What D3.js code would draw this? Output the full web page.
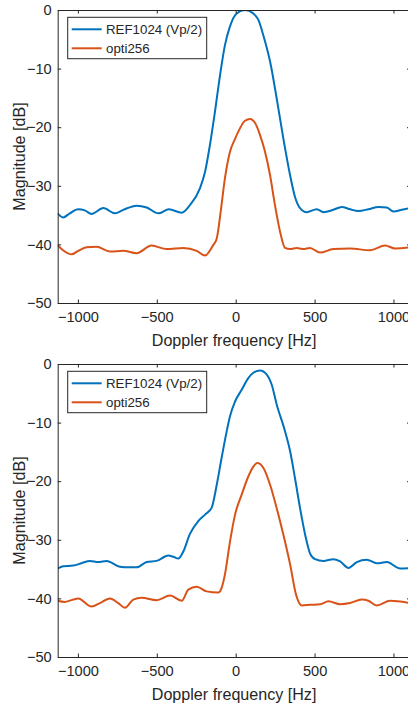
<!DOCTYPE html>
<html>
<head>
<meta charset="utf-8">
<script src="https://cdn.jsdelivr.net/npm/d3@7"></script>
<style>
html,body{margin:0;padding:0;background:#fff;}
svg{display:block;}
text{font-family:"Liberation Sans",Arial,Helvetica,sans-serif;fill:#262626;}
</style>
</head>
<body>
<svg id="chart" width="408" height="705"></svg>
<script>
// ---- Data ----
const seriesNames = ["REF1024 (Vp/2)", "opti256"];
const xTicks = [-1000, -500, 0, 500, 1000];
const yTicks = [0, -10, -20, -30, -40, -50];
const xLabel = "Doppler frequency [Hz]";
const yLabel = "Magnitude [dB]";

// Top panel
const topRefFreq = [-1128,-1094,-1051,-998,-956,-913,-839,-765,-712,-628,-564,-490,-423,-342,-290,-226,-194,-163,-131,-99,-68,-36,6,59,112,144,175,218,260,302,345,376,408,450,514,556,619,672,725,778,841,905,958,1000,1053,1108];
const topRefDb   = [-34.7,-35.4,-34.7,-34.0,-34.2,-34.8,-33.8,-34.7,-34.1,-33.4,-33.7,-34.7,-34.0,-34.6,-33.3,-30.4,-27.6,-23.0,-17.3,-11.1,-6.0,-2.8,-0.6,0.0,-0.6,-1.7,-4.3,-8.8,-15.1,-21.9,-28.2,-31.9,-33.8,-34.5,-34.0,-34.5,-34.1,-33.6,-34.0,-34.3,-34.0,-33.6,-33.7,-34.4,-34.1,-33.8];
const topOptFreq = [-1128,-1094,-1040,-998,-945,-882,-797,-712,-628,-533,-438,-332,-247,-194,-142,-120,-95,-68,-36,-4,27,59,91,123,154,186,218,249,281,313,345,387,429,471,535,619,725,852,947,1010,1108];
const topOptDb   = [-40.2,-41.0,-41.7,-41.1,-40.5,-40.4,-41.2,-41.1,-41.5,-40.2,-40.8,-40.6,-41.1,-41.9,-40.1,-39.0,-34.4,-28.7,-24.2,-22.0,-20.2,-18.9,-18.6,-19.3,-21.3,-24.2,-28.2,-33.3,-37.8,-40.6,-40.8,-40.6,-40.8,-40.6,-41.4,-40.8,-40.7,-41.0,-40.2,-40.7,-40.5];

// Bottom panel
const botRefFreq = [-1128,-1094,-1030,-977,-924,-871,-818,-734,-681,-628,-564,-501,-427,-395,-364,-332,-290,-237,-194,-152,-120,-89,-57,-36,-4,38,80,112,154,197,228,260,313,345,376,408,440,471,503,556,619,662,715,768,831,894,958,1042,1108];
const botRefDb   = [-34.9,-34.5,-34.4,-34.0,-33.6,-33.8,-33.6,-34.6,-34.7,-34.7,-33.8,-33.6,-32.7,-32.9,-33.2,-32.0,-29.0,-26.8,-25.7,-24.5,-20.6,-16.0,-11.5,-8.9,-6.4,-4.4,-2.4,-1.5,-1.1,-1.8,-3.5,-6.9,-11.5,-14.9,-19.5,-24.6,-29.1,-32.3,-33.3,-33.6,-33.3,-33.7,-34.8,-33.8,-33.4,-34.0,-33.8,-34.9,-34.8];
const botOptFreq = [-1128,-1084,-998,-913,-860,-797,-744,-702,-649,-596,-501,-416,-342,-300,-247,-184,-110,-89,-68,-36,-4,38,80,112,137,175,218,260,302,345,383,419,471,535,588,662,725,799,841,894,979,1108];
const botOptDb   = [-40.4,-40.6,-40.0,-41.4,-40.8,-40.0,-40.8,-41.6,-40.2,-39.9,-40.3,-39.5,-40.4,-38.5,-38.0,-38.8,-39.0,-38.2,-35.9,-30.3,-25.7,-22.3,-19.2,-17.5,-16.9,-17.7,-20.6,-24.6,-29.1,-34.2,-39.4,-41.2,-41.1,-41.0,-40.5,-41.0,-40.8,-40.2,-40.4,-41.2,-40.4,-40.8];

const panels = [
  {top: 10,  ref: [topRefFreq, topRefDb], opt: [topOptFreq, topOptDb]},
  {top: 364, ref: [botRefFreq, botRefDb], opt: [botOptFreq, botOptDb]}
];
const colors = ["#0072BD", "#D95319"];

// ---- Layout ----
const left = 57.7, right = 410.5, plotH = 293;
const tickLen = 3.5;
const svg = d3.select("#chart");

panels.forEach((p, i) => {
  const x = d3.scaleLinear().domain([-1128, 1108]).range([left, right]);
  const y = d3.scaleLinear().domain([-50, 0]).range([p.top + plotH, p.top]);
  const g = svg.append("g");

  const clipId = "clip" + i;
  g.append("clipPath").attr("id", clipId).append("rect")
    .attr("x", left).attr("y", p.top).attr("width", right - left).attr("height", plotH);

  const line = d3.line().x(d => x(d[0])).y(d => y(d[1])).curve(d3.curveMonotoneX);
  [p.ref, p.opt].forEach((s, k) => {
    const pts = s[0].map((f, j) => [f, s[1][j]]);
    g.append("path").attr("d", line(pts)).attr("fill", "none")
      .attr("stroke", colors[k]).attr("stroke-width", 2)
      .attr("stroke-linejoin", "round").attr("clip-path", `url(#${clipId})`);
  });

  // axes (inward ticks) using d3 axes
  const axB = d3.axisBottom(x).tickValues(xTicks).tickSizeInner(-tickLen).tickSizeOuter(0).tickPadding(9).tickFormat(d3.format("d"));
  const axT = d3.axisTop(x).tickValues(xTicks).tickSizeInner(-tickLen).tickSizeOuter(0).tickFormat("");
  const axL = d3.axisLeft(y).tickValues(yTicks).tickSizeInner(-tickLen).tickSizeOuter(0).tickPadding(9).tickFormat(d3.format("d"));
  const axR = d3.axisRight(y).tickValues(yTicks).tickSizeInner(-tickLen).tickSizeOuter(0).tickFormat("");

  const gb = g.append("g").attr("transform", `translate(0,${p.top + plotH})`).call(axB);
  const gt = g.append("g").attr("transform", `translate(0,${p.top})`).call(axT);
  const gl = g.append("g").attr("transform", `translate(${left},0)`).call(axL);
  const gr = g.append("g").attr("transform", `translate(${right},0)`).call(axR);
  [gb, gt, gl, gr].forEach(a => {
    a.selectAll("path.domain").attr("stroke", "#262626").attr("stroke-width", 1);
    a.selectAll(".tick line").attr("stroke", "#262626").attr("stroke-width", 1);
    a.selectAll("text").attr("font-family", '"Liberation Sans",Arial,sans-serif')
      .attr("font-size", 14.6).attr("fill", "#262626");
  });
  gb.selectAll(".tick text").attr("dy", "0.71em");
  gl.selectAll(".tick text").attr("x", -6);

  // axis labels
  g.append("text").attr("x", (left + right) / 2).attr("y", p.top + plotH + 42.7)
    .attr("text-anchor", "middle").attr("font-size", 16.1).text(xLabel);
  g.append("text").attr("transform", `translate(24.5,${p.top + plotH / 2}) rotate(-90)`)
    .attr("text-anchor", "middle").attr("font-size", 16.1).text(yLabel);

  // legend
  const lg = g.append("g").attr("transform", `translate(67.7,${p.top + 7.3})`);
  lg.append("rect").attr("x", 0).attr("y", 0).attr("width", 139).attr("height", 41.4)
    .attr("fill", "#fff").attr("stroke", "#262626").attr("stroke-width", 1);
  seriesNames.forEach((name, k) => {
    const ry = 12 + k * 19;
    lg.append("line").attr("x1", 4).attr("x2", 34).attr("y1", ry).attr("y2", ry)
      .attr("stroke", colors[k]).attr("stroke-width", 2);
    lg.append("text").attr("x", 38.3).attr("y", ry + 4.7).attr("font-size", 13.3).text(name);
  });
});
</script>
</body>
</html>
